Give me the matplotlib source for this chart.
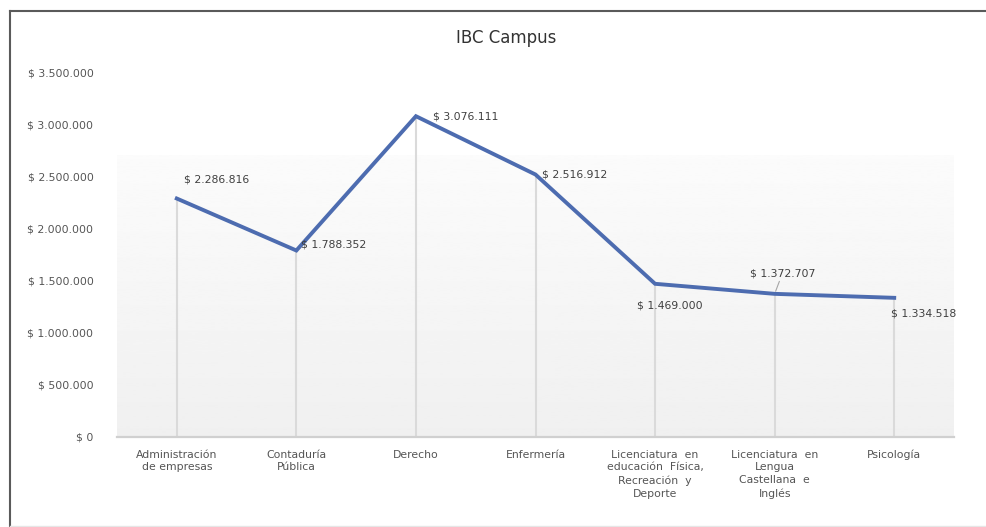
import matplotlib.pyplot as plt
import numpy as np
from matplotlib.lines import Line2D

# datos
carreras = ["Administración\nde empresas", "Contaduría\nPública", "Derecho",
            "Enfermería", "Licenciatura  en\neducación  Física,\nRecreación  y\nDeporte",
            "Licenciatura  en\nLengua\nCastellana  e\nInglés", "Psicología"]
valores = [2286816, 1788352, 3076111, 2516912, 1469000, 1372707, 1334518]
yticks = [0, 500000, 1000000, 1500000, 2000000, 2500000, 3000000, 3500000]


def pesos(v):
    return "$ " + f"{v:,.0f}".replace(",", ".")


plt.rcParams["font.family"] = "DejaVu Sans"
W, H = 986, 527
fig = plt.figure(figsize=(W / 100, H / 100), dpi=100)
fig.patch.set_facecolor("white")
ax = fig.add_axes([117 / W, 1 - 437 / H, (954 - 117) / W, (437 - 72) / H])
ax.set_facecolor("white")

x = np.arange(len(valores))
ax.set_xlim(-0.5, len(valores) - 0.5)
ax.set_ylim(0, 3500000)

# fondo degradado del área de trazado
grad = np.linspace(0.94, 0.985, 256).reshape(-1, 1)
top = 2700000 / 3500000
ax.imshow(grad, cmap="gray", vmin=0, vmax=1, aspect="auto", origin="lower",
          extent=[0, 1, 0, top], transform=ax.transAxes, zorder=0)

# líneas de proyección
ax.vlines(x, 0, valores, color="#dadada", lw=1.5, zorder=1)
ax.plot(x, valores, color="#4d6cb0", lw=2.8, zorder=3, solid_joinstyle="miter")

for s in ["top", "right", "left"]:
    ax.spines[s].set_visible(False)
ax.spines["bottom"].set_color("#d0d0d0")
ax.spines["bottom"].set_linewidth(1.6)

ax.set_yticks(yticks)
ax.set_yticklabels([pesos(v) for v in yticks])
ax.set_xticks(x)
ax.set_xticklabels(carreras, linespacing=1.35)
ax.tick_params(axis="y", length=0, pad=17, labelsize=7.8, labelcolor="#555555")
ax.tick_params(axis="x", length=0, pad=9, labelsize=7.8, labelcolor="#555555")
for t in ax.get_xticklabels():
    t.set_verticalalignment("top")

# etiquetas de datos
kw = dict(fontsize=7.8, color="#404040", zorder=4)
offs = [(5, 10, "left", "bottom"), (3, 1, "left", "bottom"), (12, 0, "left", "center"),
        (5, 0, "left", "center"), (-13, -12, "left", "top"), (-18, 11, "left", "bottom"),
        (-2, -8, "left", "top")]
for i, (v, (dx, dy, ha, va)) in enumerate(zip(valores, offs)):
    if i == 5:
        ax.annotate(pesos(v), (i, v), xytext=(dx, dy), textcoords="offset points",
                    ha=ha, va=va, arrowprops=dict(arrowstyle="-", color="#a6a6a6", lw=0.8,
                                                  shrinkA=0, shrinkB=2), **kw)
    else:
        ax.annotate(pesos(v), (i, v), xytext=(dx, dy), textcoords="offset points",
                    ha=ha, va=va, **kw)

fig.text(506 / W, 1 - 38 / H, "IBC Campus", ha="center", va="center",
         fontsize=12, color="#333333")

# marco
fig.add_artist(Line2D([10 / W, 10 / W], [1 - 11 / H, 1 - 526 / H], color="#5a5a5a", lw=1.5))
fig.add_artist(Line2D([10 / W, 1], [1 - 11 / H, 1 - 11 / H], color="#5a5a5a", lw=1.5))
fig.add_artist(Line2D([10 / W, 1], [1 - 526 / H, 1 - 526 / H], color="#e6e6e6", lw=1))

fig.savefig("out.png", dpi=100)
